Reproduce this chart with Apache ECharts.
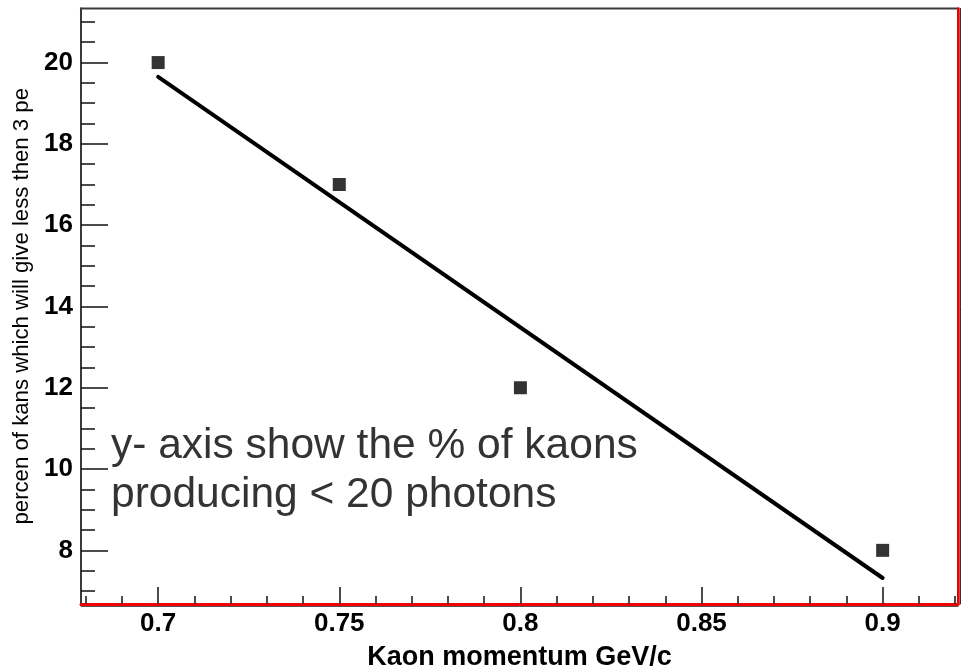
<!DOCTYPE html>
<html>
<head>
<meta charset="utf-8">
<script src="https://cdn.jsdelivr.net/npm/echarts@6/dist/echarts.min.js"></script>
<style>
  html, body { margin: 0; padding: 0; background: #fff; }
  #chart { width: 967px; height: 669px; }
</style>
</head>
<body>
<div id="chart"></div>
<script>
// Measured points: kaon momentum (GeV/c) vs. percentage below threshold
const momentum = [0.7, 0.75, 0.8, 0.9];
const percent = [20.0, 17.0, 12.0, 8.0];

// Straight-line fit, drawn over the fitted range
const fitX = [0.7, 0.9];
const fitY = [19.65, 7.32];

// Axis ranges and tick positions
const xRange = [0.6787, 0.9208];
const yRange = [6.68, 21.33];
const xMajorTicks = [0.7, 0.75, 0.8, 0.85, 0.9];
const xMinorTicks = [0.68, 0.69, 0.71, 0.72, 0.73, 0.74, 0.76, 0.77, 0.78, 0.79,
                     0.81, 0.82, 0.83, 0.84, 0.86, 0.87, 0.88, 0.89, 0.91, 0.92];
const yMajorTicks = [8, 10, 12, 14, 16, 18, 20];
const yMinorTicks = [7, 7.5, 8.5, 9, 9.5, 10.5, 11, 11.5, 12.5, 13, 13.5, 14.5, 15, 15.5,
                     16.5, 17, 17.5, 18.5, 19, 19.5, 20.5, 21];

const xTitle = 'Kaon momentum GeV/c';
const yTitle = 'percen of kans which will give less then 3 pe';
const noteLines = ['y- axis show the % of kaons', 'producing < 20 photons'];

const FONT = '"Liberation Sans", Arial, Helvetica, sans-serif';
const RED = '#f00000';
const FRAME = '#3a3a3a';

const chart = echarts.init(document.getElementById('chart'), null, { renderer: 'canvas' });

const hidden = { show: false };

const option = {
  animation: false,
  backgroundColor: '#ffffff',
  grid: {
    left: 81, right: 9, top: 8.5, bottom: 65,
    outerBoundsMode: 'none', containLabel: false,
    show: true, borderColor: FRAME, borderWidth: 2, backgroundColor: '#ffffff'
  },
  xAxis: [
    { // main bottom axis: red line, major ticks, labels, title
      type: 'value', position: 'bottom', min: xRange[0], max: xRange[1],
      axisLine: { show: true, onZero: false, lineStyle: { color: RED, width: 3 } },
      axisTick: { show: true, inside: true, length: 17, customValues: xMajorTicks,
                  lineStyle: { color: '#111', width: 1.5 } },
      axisLabel: { show: true, customValues: xMajorTicks, margin: 7,
                   color: '#000', fontFamily: FONT, fontWeight: 'bold', fontSize: 26 },
      splitLine: hidden,
      name: xTitle, nameLocation: 'middle', nameGap: 40,
      nameTextStyle: { color: '#000', fontFamily: FONT, fontWeight: 'bold', fontSize: 27 }
    },
    { // minor ticks
      type: 'value', position: 'bottom', min: xRange[0], max: xRange[1],
      axisLine: hidden,
      axisTick: { show: true, inside: true, length: 8, customValues: xMinorTicks,
                  lineStyle: { color: '#111', width: 1.5 } },
      axisLabel: hidden, splitLine: hidden
    },
    { // thin dark edge under the red line
      type: 'value', position: 'bottom', offset: 2.5, min: xRange[0], max: xRange[1],
      axisLine: { show: true, onZero: false, lineStyle: { color: '#555', width: 1 } },
      axisTick: hidden, axisLabel: hidden, splitLine: hidden
    }
  ],
  yAxis: [
    { // main left axis: major ticks, labels, title
      type: 'value', position: 'left', min: yRange[0], max: yRange[1],
      axisLine: { show: true, onZero: false, lineStyle: { color: FRAME, width: 2 } },
      axisTick: { show: true, inside: true, length: 27, customValues: yMajorTicks,
                  lineStyle: { color: '#111', width: 1.5 } },
      axisLabel: { show: true, customValues: yMajorTicks, margin: 8,
                   color: '#000', fontFamily: FONT, fontWeight: 'bold', fontSize: 26 },
      splitLine: hidden,
      name: yTitle, nameLocation: 'middle', nameGap: 41, nameRotate: 90,
      nameTextStyle: { color: '#000', fontFamily: FONT, fontSize: 22.2 }
    },
    { // minor ticks
      type: 'value', position: 'left', min: yRange[0], max: yRange[1],
      axisLine: hidden,
      axisTick: { show: true, inside: true, length: 14, customValues: yMinorTicks,
                  lineStyle: { color: '#111', width: 1.5 } },
      axisLabel: hidden, splitLine: hidden
    },
    { // red right edge
      type: 'value', position: 'right', min: yRange[0], max: yRange[1],
      axisLine: { show: true, onZero: false, lineStyle: { color: RED, width: 2.5 } },
      axisTick: hidden, axisLabel: hidden, splitLine: hidden
    },
    { // thin dark edge beside the red line
      type: 'value', position: 'right', offset: 2, min: yRange[0], max: yRange[1],
      axisLine: { show: true, onZero: false, lineStyle: { color: '#333', width: 1 } },
      axisTick: hidden, axisLabel: hidden, splitLine: hidden
    }
  ],
  series: [
    {
      name: 'fit',
      type: 'line',
      xAxisIndex: 0, yAxisIndex: 0,
      data: fitX.map((x, i) => [x, fitY[i]]),
      showSymbol: false, symbol: 'none',
      lineStyle: { color: '#000', width: 4, cap: 'round' },
      z: 3
    },
    {
      name: 'points',
      type: 'scatter',
      xAxisIndex: 0, yAxisIndex: 0,
      data: momentum.map((x, i) => [x, percent[i]]),
      symbol: 'rect', symbolSize: 13,
      itemStyle: { color: '#000' },
      z: 4
    }
  ],
  graphic: [
    {
      type: 'text', left: 111, top: 422, z: 10,
      style: {
        text: noteLines.join('\n'),
        font: '42.5px ' + FONT,
        lineHeight: 49,
        fill: '#333333'
      }
    }
  ]
};

chart.setOption(option);
</script>
</body>
</html>
